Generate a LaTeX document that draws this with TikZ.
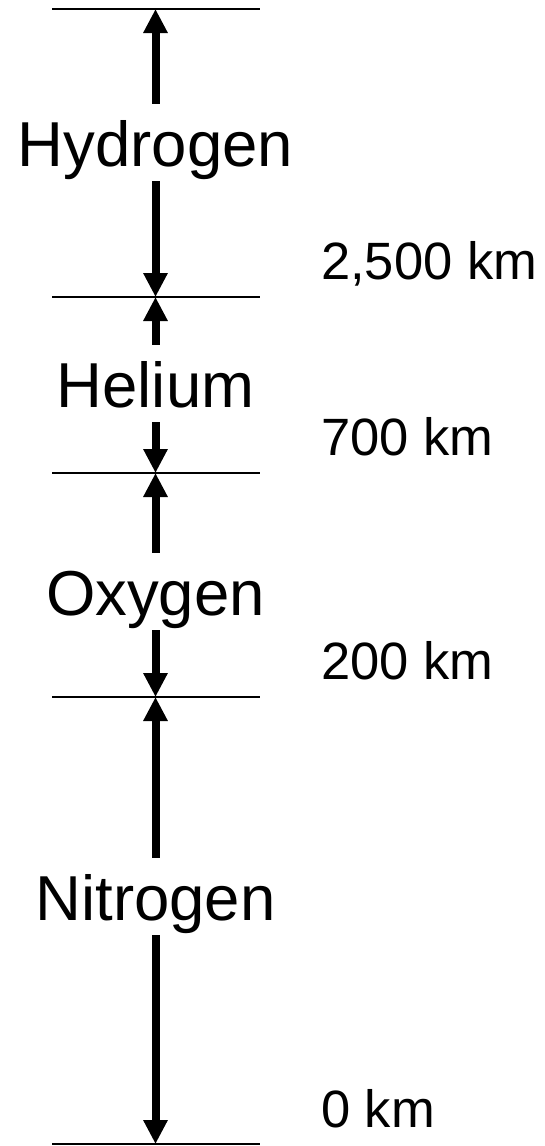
\documentclass[tikz,border=0pt]{standalone}
\usepackage{fontspec}
\setmainfont{Liberation Sans}
\usetikzlibrary{arrows.meta}
\tikzset{
  sep/.style={line width=2.5pt, black},
  arr/.style={line width=8pt, -{Triangle[width=23pt,length=24pt]}},
  gas/.style={font=\fontsize{63.5}{70}\selectfont, anchor=base, inner sep=0pt, text height=62pt, text depth=15pt},
  km/.style={font=\fontsize{52.5}{60}\selectfont, anchor=base west, inner sep=0pt}
}
\begin{document}
\begin{tikzpicture}[x=1pt,y=-1pt]
\useasboundingbox (0,0) rectangle (545,1146);
% boundary line centres
\coordinate (L0) at (155.5,9);
\coordinate (L1) at (155.5,297);
\coordinate (L2) at (155.5,473);
\coordinate (L3) at (155.5,697);
\coordinate (L4) at (155.5,1144);
\foreach \c in {L0,L1,L2,L3,L4}
  \draw[sep] ([xshift=-103.5pt]\c) -- ([xshift=104.5pt]\c);
% gas names
\node[gas] (H) at (155.5,166) {Hydrogen};
\node[gas] (He) at (155.5,407) {Helium};
\node[gas] (O) at (155.5,615) {Oxygen};
\node[gas] (N) at (155.5,920) {Nitrogen};
% arrows
\draw[arr] (H.north) -- (L0);
\draw[arr] (H.south) -- (L1);
\draw[arr] (He.north) -- (L1);
\draw[arr] (He.south) -- (L2);
\draw[arr] (O.north) -- (L2);
\draw[arr] (O.south) -- (L3);
\draw[arr] (N.north) -- (L3);
\draw[arr] (N.south) -- (L4);
% altitude labels
\node[km] (k2500) at (321,279) {2,500 km};
\node[km] (k700) at (321,455) {700 km};
\node[km] (k200) at (321,679) {200 km};
\node[km] (k0) at (321,1127) {0 km};
\end{tikzpicture}
\end{document}
